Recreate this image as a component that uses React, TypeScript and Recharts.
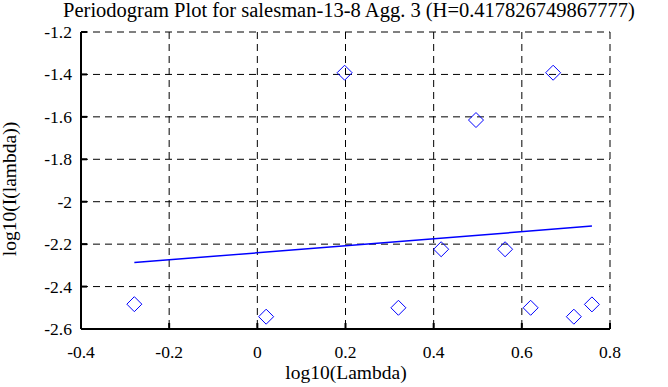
import * as React from "react";
import {
  ScatterChart,
  Scatter,
  XAxis,
  YAxis,
  CartesianGrid,
} from "recharts";

// periodogram points, log10(lambda) vs log10(I(lambda))
const logLambda = [-0.279, 0.02, 0.198, 0.32, 0.417, 0.496, 0.562, 0.62, 0.671, 0.718, 0.759];
const logPower = [-2.483, -2.542, -1.392, -2.5, -2.224, -1.615, -2.224, -2.5, -1.392, -2.542, -2.484];

// fitted regression line ends
const fitX = [-0.279, 0.759];
const fitY = [-2.287, -2.115];

const xTicks = [-0.4, -0.2, 0, 0.2, 0.4, 0.6, 0.8];
const yTicks = [-2.6, -2.4, -2.2, -2, -1.8, -1.6, -1.4, -1.2];

const points = logLambda.map((x, i) => ({ x, y: logPower[i] }));
const fitLine = fitX.map((x, i) => ({ x, y: fitY[i] }));

const W = 668;
const H = 387;
const FONT = "Liberation Serif, DejaVu Serif, serif";
const BLUE = "#0000ff";

const Diamond = (props: any) => {
  const { cx, cy } = props;
  if (cx == null || cy == null) return <g />;
  const r = 7.5;
  return (
    <path
      d={`M${cx},${cy - r}L${cx + r},${cy}L${cx},${cy + r}L${cx - r},${cy}Z`}
      fill="none"
      stroke={BLUE}
      strokeWidth={1}
    />
  );
};

// tick labels drawn by hand so the serif font sticks
const XTick = (props: any) => {
  const { x, y, payload } = props;
  return (
    <text x={x} y={y + 12} textAnchor="middle" fill="#000" style={{ fontFamily: FONT, fontSize: 17.5 }}>
      {String(payload.value)}
    </text>
  );
};

const YTick = (props: any) => {
  const { x, y, payload } = props;
  return (
    <text x={x} y={y + 6} textAnchor="end" fill="#000" style={{ fontFamily: FONT, fontSize: 17.5 }}>
      {String(payload.value)}
    </text>
  );
};

const axisLine = { stroke: "#000", strokeWidth: 2 };
const tickLine = { stroke: "#000", strokeWidth: 2 };

export default function App() {
  return (
    <div style={{ position: "absolute", left: 0, top: 0, width: W, height: H, background: "#fff", fontFamily: FONT }}>
      <ScatterChart
        width={W}
        height={H}
        margin={{ top: 32, right: 58, bottom: 8, left: 21 }}
      >
        <CartesianGrid stroke="#000" strokeDasharray="7 5" strokeWidth={1} />
        <XAxis
          type="number"
          dataKey="x"
          domain={[-0.4, 0.8]}
          ticks={xTicks}
          allowDataOverflow
          height={50}
          tickSize={-6}
          tickMargin={23}
          axisLine={axisLine}
          tickLine={tickLine}
          tick={XTick}
          interval={0}
        />
        <XAxis
          xAxisId="top"
          orientation="top"
          type="number"
          dataKey="x"
          domain={[-0.4, 0.8]}
          ticks={xTicks}
          allowDataOverflow
          height={0}
          tickSize={-6}
          axisLine={axisLine}
          tickLine={tickLine}
          tick={false}
          interval={0}
        />
        <YAxis
          type="number"
          dataKey="y"
          domain={[-2.6, -1.2]}
          ticks={yTicks}
          allowDataOverflow
          width={60}
          tickSize={-6}
          tickMargin={15}
          axisLine={axisLine}
          tickLine={tickLine}
          tick={YTick}
          interval={0}
        />
        <YAxis
          yAxisId="right"
          orientation="right"
          type="number"
          dataKey="y"
          domain={[-2.6, -1.2]}
          ticks={yTicks}
          allowDataOverflow
          width={0}
          tickSize={-6}
          axisLine={axisLine}
          tickLine={tickLine}
          tick={false}
          interval={0}
        />
        <Scatter
          data={fitLine}
          line={{ stroke: BLUE, strokeWidth: 1.5 }}
          shape={() => <g />}
          isAnimationActive={false}
        />
        <Scatter data={points} shape={Diamond} isAnimationActive={false} />
      </ScatterChart>
      <svg
        width={W}
        height={H}
        style={{ position: "absolute", left: 0, top: 0, pointerEvents: "none" }}
      >
        <text x={349} y={17} textAnchor="middle" fill="#000" style={{ fontFamily: FONT, fontSize: 20.5 }}>
          Periodogram Plot for salesman-13-8 Agg. 3 (H=0.417826749867777)
        </text>
        <text x={346} y={379} textAnchor="middle" fill="#000" style={{ fontFamily: FONT, fontSize: 19.5 }}>
          log10(Lambda)
        </text>
        <text
          x={0}
          y={0}
          transform="translate(16,189) rotate(-90)"
          textAnchor="middle"
          fill="#000"
          style={{ fontFamily: FONT, fontSize: 19.5 }}
        >
          log10(I(lambda))
        </text>
      </svg>
    </div>
  );
}
